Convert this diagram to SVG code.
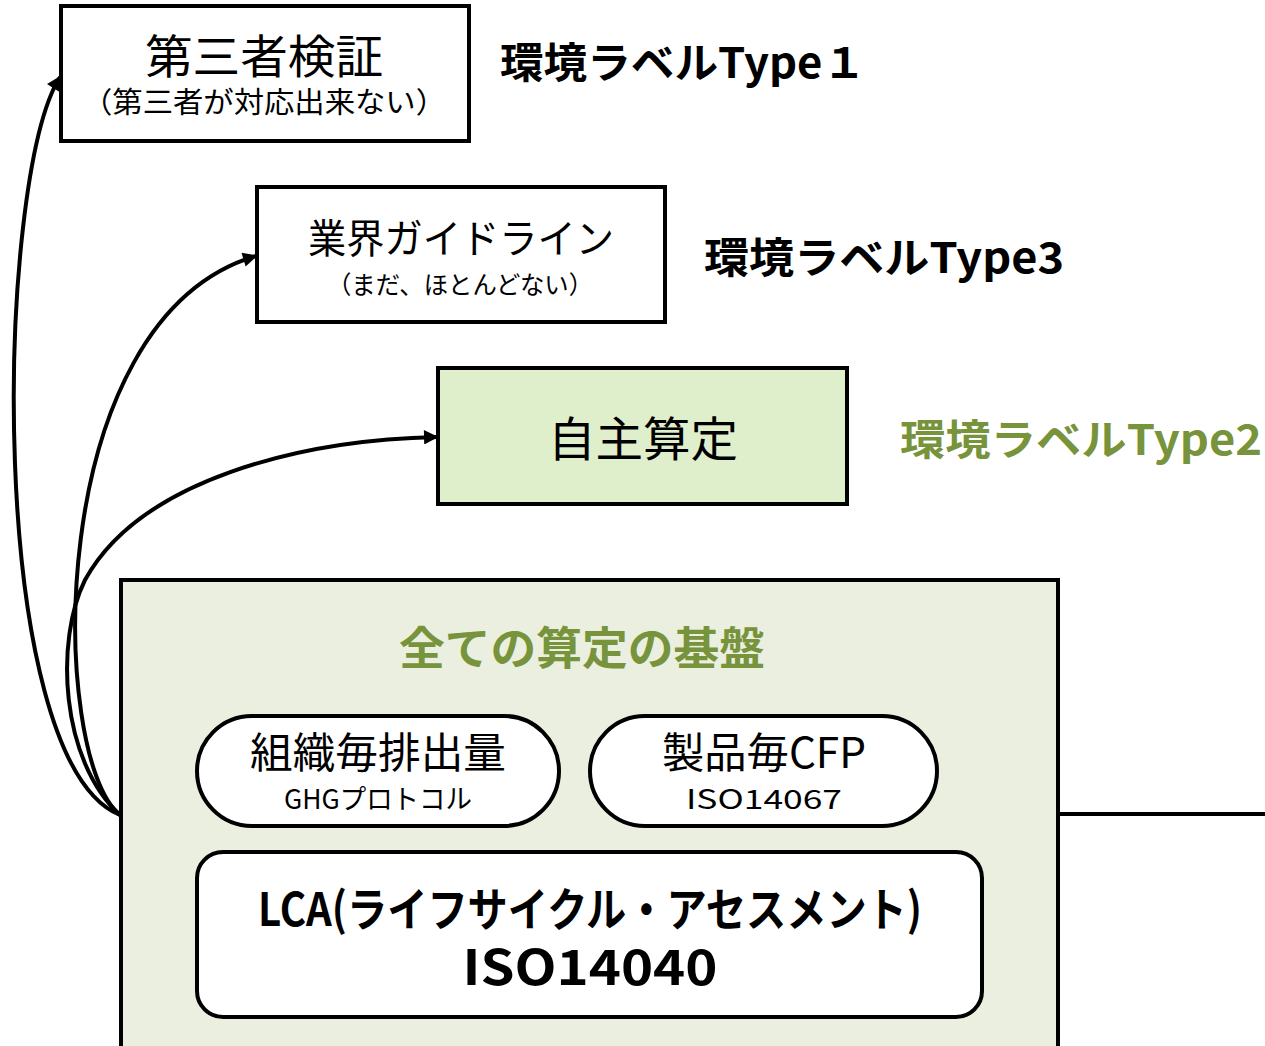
<svg xmlns="http://www.w3.org/2000/svg" width="1265" height="1046" viewBox="0 0 1265 1046">
<defs>
<marker id="ah" viewBox="0 0 10 10" refX="9" refY="5" markerWidth="4" markerHeight="3.6" markerUnits="strokeWidth" orient="auto">
<path d="M0,0 L10,5 L0,10 z" fill="#000"/>
</marker>
<style>
.box{stroke:#000;stroke-width:4;}
.t{font-family:"Noto Sans CJK JP","Noto Sans",sans-serif;fill:#000;}
.b{font-weight:bold;}
.g{fill:#77933c;}
.c{text-anchor:middle;}
.conn{fill:none;stroke:#000;stroke-width:4;marker-end:url(#ah);}
</style>
</defs>
<rect width="1265" height="1046" fill="#fff"/>

<g id="base">
<rect class="box" x="121" y="580" width="937" height="500" fill="#ebefdf"/>
<text class="t b g c" x="582" y="665" font-size="45" textLength="366" lengthAdjust="spacingAndGlyphs">全ての算定の基盤</text>
</g>
<line x1="1058" y1="814" x2="1265" y2="814" stroke="#000" stroke-width="4"/>

<g id="type1">
<rect class="box" x="61" y="6" width="408" height="135" fill="#fff"/>
<text class="t c" x="264" y="73" font-size="46" textLength="238" lengthAdjust="spacingAndGlyphs">第三者検証</text>
<text class="t c" x="264" y="113" font-size="29" textLength="364" lengthAdjust="spacingAndGlyphs">（第三者が対応出来ない）</text>
</g>
<text class="t b" x="500" y="78" font-size="42" textLength="366" lengthAdjust="spacingAndGlyphs">環境ラベルType１</text>

<g id="type3">
<rect class="box" x="257" y="187" width="408" height="135" fill="#fff"/>
<text class="t c" x="461" y="253" font-size="40" textLength="306" lengthAdjust="spacingAndGlyphs">業界ガイドライン</text>
<text class="t c" x="460" y="294" font-size="25" textLength="266" lengthAdjust="spacingAndGlyphs">（まだ、ほとんどない）</text>
</g>
<text class="t b" x="704" y="273" font-size="42" textLength="360" lengthAdjust="spacingAndGlyphs">環境ラベルType3</text>

<g id="self">
<rect class="box" x="438" y="368" width="409" height="136" fill="#dfeecb"/>
<text class="t c" x="643" y="456" font-size="47" textLength="190" lengthAdjust="spacingAndGlyphs">自主算定</text>
</g>
<text class="t b g" x="900" y="455" font-size="42" textLength="362" lengthAdjust="spacingAndGlyphs">環境ラベルType2</text>

<g id="org">
<rect class="box" x="197" y="716" width="362" height="110" rx="55" fill="#fff"/>
<text class="t c" x="378" y="768" font-size="42" textLength="256" lengthAdjust="spacingAndGlyphs">組織毎排出量</text>
<text class="t c" x="378" y="809" font-size="27" textLength="188" lengthAdjust="spacingAndGlyphs">GHGプロトコル</text>
</g>

<g id="cfp">
<rect class="box" x="590" y="716" width="347" height="110" rx="55" fill="#fff"/>
<text class="t c" x="764" y="768" font-size="42" textLength="204" lengthAdjust="spacingAndGlyphs">製品毎CFP</text>
<text class="t c" x="764" y="809" font-size="27" textLength="156" lengthAdjust="spacingAndGlyphs">ISO14067</text>
</g>

<g id="lca">
<rect class="box" x="197" y="852" width="785" height="165" rx="26" fill="#fff"/>
<text class="t b c" x="590" y="926" font-size="46" textLength="664" lengthAdjust="spacingAndGlyphs">LCA(ライフサイクル・アセスメント)</text>
<text class="t b c" x="590" y="985" font-size="48" textLength="255" lengthAdjust="spacingAndGlyphs">ISO14040</text>
</g>

<g id="connectors">
<path class="conn" d="M120,815 C-15,760 -5,180 60,77"/>
<path class="conn" d="M120,815 C50,760 40,320 256,256"/>
<path class="conn" d="M120,815 C60,760 55,640 85,580 C140,480 300,440 437,437"/>
</g>
</svg>
